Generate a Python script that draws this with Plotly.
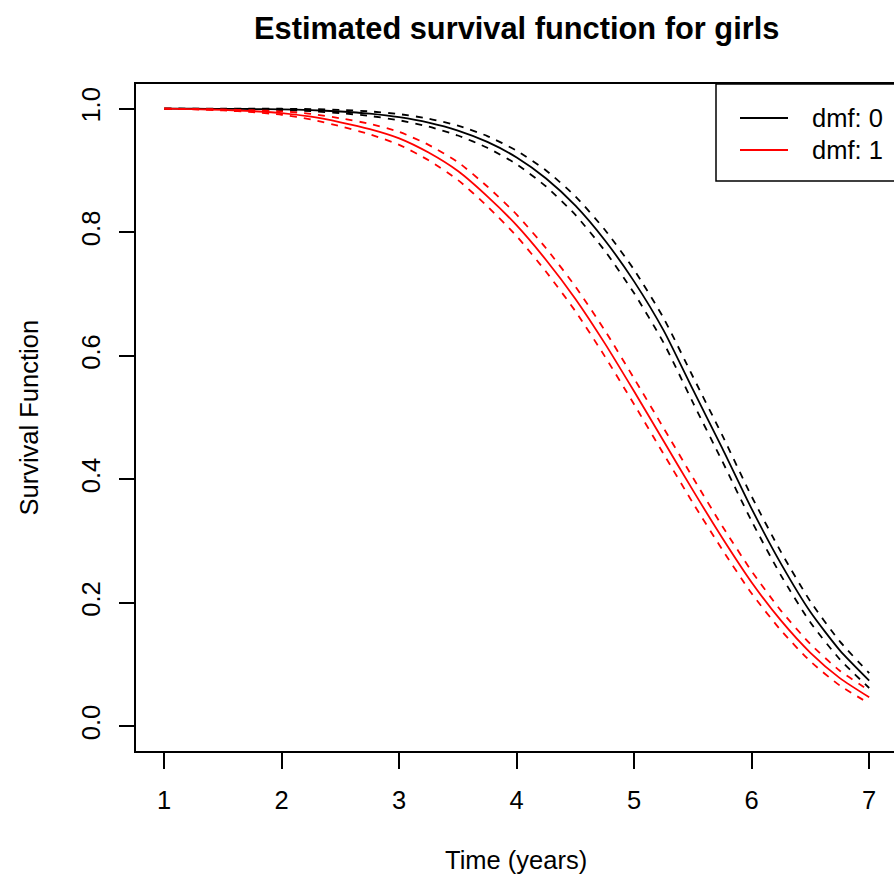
import plotly.graph_objects as go

# time grid (years)
time = [1.0, 1.25, 1.5, 1.75, 2.0, 2.25, 2.5, 2.75, 3.0, 3.25, 3.5, 3.75, 4.0,
        4.25, 4.5, 4.75, 5.0, 5.25, 5.5, 5.75, 6.0, 6.25, 6.5, 6.75, 7.0]

# dmf: 0 (black)
surv_dmf0 = [1.0, 0.9999, 0.9998, 0.9995, 0.9989, 0.9977, 0.9955, 0.9919, 0.9862,
             0.9775, 0.9646, 0.9462, 0.921, 0.887, 0.843, 0.787, 0.720, 0.641,
             0.545, 0.450, 0.352, 0.263, 0.185, 0.123, 0.074]
upper_dmf0 = [1.0, 1.0, 1.0, 1.0, 0.9999, 0.9994, 0.9981, 0.9956, 0.9912, 0.9840,
              0.9726, 0.9557, 0.932, 0.900, 0.858, 0.804, 0.739, 0.661, 0.566,
              0.471, 0.372, 0.282, 0.202, 0.1375, 0.086]
lower_dmf0 = [1.0, 0.9998, 0.9996, 0.9990, 0.9979, 0.9960, 0.9929, 0.9882, 0.9812,
              0.9710, 0.9566, 0.9367, 0.910, 0.874, 0.828, 0.770, 0.701, 0.621,
              0.524, 0.429, 0.332, 0.244, 0.168, 0.1085, 0.062]

# dmf: 1 (red)
surv_dmf1 = [1.0, 0.9993, 0.998, 0.996, 0.993, 0.987, 0.978, 0.967, 0.952, 0.929,
             0.899, 0.858, 0.811, 0.755, 0.692, 0.620, 0.542, 0.462, 0.382, 0.305,
             0.233, 0.171, 0.119, 0.078, 0.047]
upper_dmf1 = [1.0, 0.9996, 0.9988, 0.9975, 0.9958, 0.9915, 0.9845, 0.9755, 0.9625,
              0.9415, 0.9135, 0.874, 0.8285, 0.774, 0.712, 0.641, 0.563, 0.483,
              0.4025, 0.324, 0.251, 0.187, 0.133, 0.090, 0.058]
lower_dmf1 = [1.0, 0.999, 0.9972, 0.9945, 0.9902, 0.9825, 0.9715, 0.9585, 0.9415,
              0.9165, 0.8845, 0.842, 0.7935, 0.736, 0.672, 0.599, 0.521, 0.441,
              0.3615, 0.286, 0.215, 0.155, 0.105, 0.066, 0.037]

x_ticks = [1, 2, 3, 4, 5, 6, 7]
y_ticks = [0.0, 0.2, 0.4, 0.6, 0.8, 1.0]
y_tick_labels = ["0.0", "0.2", "0.4", "0.6", "0.8", "1.0"]
legend_labels = ["dmf: 0", "dmf: 1"]
colors = ["#000000", "#FF0000"]

FONT = "Liberation Sans, Arial, Helvetica, sans-serif"
FS = 25.5
LW = 1.8
DASH = "7px,7px"

fig = go.Figure()
for s, up, lo, col in [(surv_dmf0, upper_dmf0, lower_dmf0, colors[0]),
                       (surv_dmf1, upper_dmf1, lower_dmf1, colors[1])]:
    fig.add_trace(go.Scatter(x=time, y=s, mode="lines",
                             line=dict(color=col, width=LW, shape="spline", smoothing=0.6),
                             showlegend=False))
    for b in (up, lo):
        fig.add_trace(go.Scatter(x=time, y=b, mode="lines",
                                 line=dict(color=col, width=LW, dash=DASH,
                                           shape="spline", smoothing=0.6),
                                 showlegend=False))

W, H = 894, 884
L, T, B = 136, 84, 133
plot_w = W - L
px_per_unit = 117.5
x0 = 0.76
x1 = x0 + plot_w / px_per_unit

fig.update_layout(
    width=W, height=H,
    margin=dict(l=L, r=0, t=T, b=B),
    paper_bgcolor="white", plot_bgcolor="white",
    font=dict(family=FONT, size=FS, color="black"),
    xaxis=dict(range=[x0, x1], tickvals=x_ticks, ticktext=[str(v) for v in x_ticks],
               ticks="outside", ticklen=16, tickwidth=1.5, tickcolor="black",
               showline=True, linewidth=1.5, linecolor="black", mirror=True,
               showgrid=False, zeroline=False, ticklabelstandoff=10,
               tickfont=dict(family=FONT, size=FS)),
    yaxis=dict(range=[-0.04, 1.04], tickvals=y_ticks, ticktext=y_tick_labels,
               ticks="outside", ticklen=15, tickwidth=1.5, tickcolor="black",
               showline=True, linewidth=1.5, linecolor="black",
               showgrid=False, zeroline=False, tickangle=-90, ticklabelstandoff=9,
               tickfont=dict(family=FONT, size=FS)),
    showlegend=False,
)

# title and axis titles
fig.add_annotation(text="<b>Estimated survival function for girls</b>", xref="paper", yref="paper",
                   x=(516 - L) / plot_w, y=1 + (T - 28) / (H - T - B), showarrow=False,
                   xanchor="center", yanchor="middle", font=dict(family=FONT, size=30.8))
fig.add_annotation(text="Time (years)", xref="paper", yref="paper",
                   x=(516 - L) / plot_w, y=-(860 - (H - B)) / (H - T - B), showarrow=False,
                   xanchor="center", yanchor="middle", font=dict(family=FONT, size=FS))
fig.add_annotation(text="Survival Function", xref="paper", yref="paper",
                   x=-(L - 28) / plot_w, y=0.5, showarrow=False, textangle=-90,
                   xanchor="center", yanchor="middle", font=dict(family=FONT, size=FS))

# legend box (drawn manually, R-style topright legend)
ph = H - T - B
def px_x(p):
    return (p - L) / plot_w
def px_y(p):
    return 1 - (p - T) / ph

fig.add_shape(type="rect", xref="paper", yref="paper",
              x0=px_x(716), x1=px_x(910), y0=px_y(181), y1=px_y(84),
              line=dict(color="black", width=1.5), fillcolor="white", layer="above")
for i, (lab, col) in enumerate(zip(legend_labels, colors)):
    yy = 118 + i * 32
    fig.add_shape(type="line", xref="paper", yref="paper",
                  x0=px_x(740), x1=px_x(788), y0=px_y(yy), y1=px_y(yy),
                  line=dict(color=col, width=LW), layer="above")
    fig.add_annotation(text=lab, xref="paper", yref="paper", x=px_x(810), y=px_y(yy),
                       xanchor="left", yanchor="middle", showarrow=False,
                       font=dict(family=FONT, size=FS))

fig.write_html("out.html")
